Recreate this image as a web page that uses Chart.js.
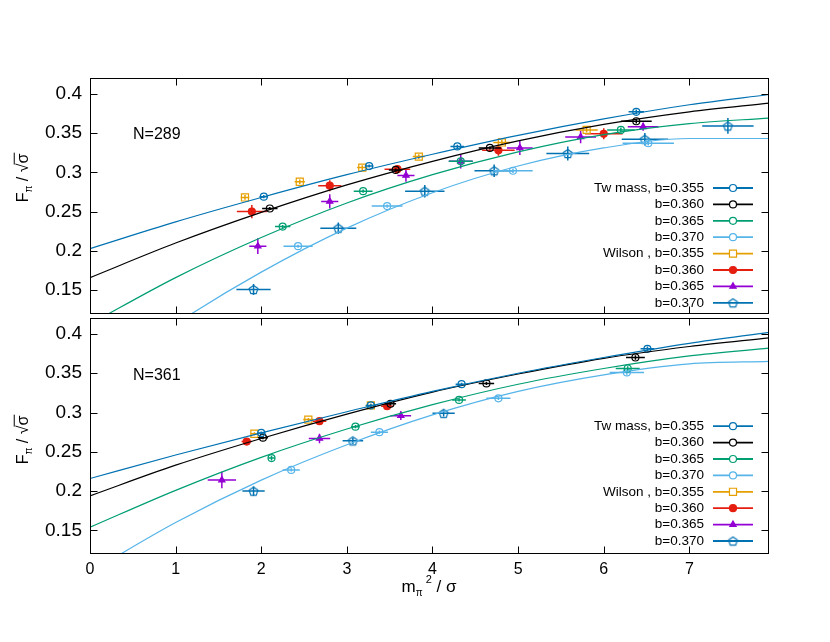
<!DOCTYPE html>
<html>
<head>
<meta charset="utf-8">
<script src="https://cdn.jsdelivr.net/npm/chart.js@4.4.0/dist/chart.umd.min.js"></script>
<style>
  html, body { margin: 0; padding: 0; background: #fff; }
  #wrap { position: relative; width: 830px; height: 642px; }
  #top { position: absolute; left: 0; top: 0; }
  #bot { position: absolute; left: 0; top: 311px; }
</style>
</head>
<body>
<div id="wrap">
  <canvas id="top" width="830" height="321"></canvas>
  <canvas id="bot" width="830" height="331"></canvas>
</div>
<script>
const SERIES = ["Tw mass, b=0.355", "b=0.360", "b=0.365", "b=0.370",
                "Wilson , b=0.355", "b=0.360", "b=0.365", "b=0.370"];
const COLORS = ["#0072b2", "#000000", "#009e73", "#56b4e9",
                "#e69f00", "#e51e10", "#9400d3", "#0072b2"];
const X_TICKS = [0, 1, 2, 3, 4, 5, 6, 7];
const Y_TICKS = [0.15, 0.2, 0.25, 0.3, 0.35, 0.4];
const CURVE_X = [0, 1, 2, 3, 4, 5, 6, 7, 7.93];

// N=289, points as [x, y, dx, dy]
const tw355_289 = [[2.03, 0.269, 0.05, 0.002], [3.26, 0.308, 0.05, 0.002], [4.29, 0.333, 0.08, 0.002], [6.38, 0.377, 0.09, 0.003]];
const tw360_289 = [[2.10, 0.254, 0.09, 0.002], [3.57, 0.303, 0.08, 0.002], [4.67, 0.331, 0.13, 0.002], [6.38, 0.365, 0.18, 0.003]];
const tw365_289 = [[2.25, 0.231, 0.09, 0.002], [3.19, 0.276, 0.11, 0.002], [4.33, 0.314, 0.14, 0.003], [6.20, 0.354, 0.16, 0.003]];
const tw370_289 = [[2.43, 0.206, 0.17, 0.002], [3.47, 0.257, 0.18, 0.002], [4.94, 0.302, 0.23, 0.003], [6.52, 0.337, 0.30, 0.003]];
const wi355_289 = [[1.81, 0.268, 0.05, 0.003], [2.45, 0.288, 0.06, 0.003], [3.18, 0.306, 0.06, 0.003], [3.84, 0.320, 0.07, 0.003], [4.81, 0.338, 0.10, 0.003], [5.80, 0.354, 0.13, 0.003]];
const wi360_289 = [[1.89, 0.250, 0.175, 0.0085], [2.80, 0.283, 0.135, 0.007], [3.59, 0.304, 0.15, 0.005], [4.77, 0.328, 0.19, 0.007], [6.00, 0.349, 0.22, 0.007]];
const wi365_289 = [[1.96, 0.206, 0.10, 0.010], [2.80, 0.263, 0.10, 0.009], [3.69, 0.296, 0.10, 0.008], [4.33, 0.314, 0.14, 0.009], [5.02, 0.331, 0.15, 0.009], [5.73, 0.345, 0.18, 0.008], [6.46, 0.358, 0.18, 0.005]];
const wi370_289 = [[1.91, 0.151, 0.20, 0.007], [2.90, 0.229, 0.21, 0.007], [3.91, 0.276, 0.23, 0.008], [4.72, 0.302, 0.23, 0.008], [5.58, 0.324, 0.25, 0.009], [6.48, 0.342, 0.27, 0.008], [7.45, 0.359, 0.30, 0.010]];
// fit curves, y at CURVE_X
const c355_289 = [0.203, 0.237, 0.268, 0.297, 0.323, 0.347, 0.368, 0.386, 0.399];
const c360_289 = [0.166, 0.210, 0.249, 0.284, 0.314, 0.340, 0.361, 0.377, 0.388];
const c365_289 = [0.107, 0.166, 0.217, 0.261, 0.297, 0.326, 0.348, 0.362, 0.369];
const c370_289 = [0.030, 0.107, 0.173, 0.229, 0.274, 0.308, 0.331, 0.343, 0.343];

// N=361
const tw355_361 = [[2.00, 0.274, 0.05, 0.002], [3.28, 0.309, 0.06, 0.002], [4.34, 0.336, 0.07, 0.002], [6.51, 0.381, 0.08, 0.003]];
const tw360_361 = [[2.02, 0.268, 0.06, 0.002], [3.51, 0.311, 0.065, 0.002], [4.63, 0.337, 0.09, 0.002], [6.37, 0.370, 0.11, 0.003]];
const tw365_361 = [[2.12, 0.242, 0.04, 0.003], [3.10, 0.282, 0.05, 0.002], [4.31, 0.316, 0.08, 0.002], [6.28, 0.356, 0.14, 0.003]];
const tw370_361 = [[2.35, 0.227, 0.10, 0.002], [3.38, 0.275, 0.10, 0.002], [4.77, 0.318, 0.14, 0.002], [6.27, 0.351, 0.20, 0.003]];
const wi355_361 = [[1.92, 0.273, 0.045, 0.002], [2.55, 0.291, 0.06, 0.002], [3.28, 0.309, 0.06, 0.002]];
const wi360_361 = [[1.83, 0.263, 0.06, 0.003], [2.68, 0.289, 0.08, 0.003], [3.47, 0.308, 0.07, 0.004]];
const wi365_361 = [[1.54, 0.214, 0.165, 0.0105], [2.68, 0.267, 0.125, 0.006], [3.63, 0.296, 0.12, 0.0055]];
const wi370_361 = [[1.91, 0.200, 0.13, 0.006], [3.07, 0.264, 0.12, 0.004], [4.13, 0.299, 0.13, 0.004]];
const c355_361 = [0.216, 0.246, 0.274, 0.301, 0.327, 0.350, 0.370, 0.388, 0.402];
const c360_361 = [0.194, 0.233, 0.267, 0.298, 0.326, 0.349, 0.369, 0.384, 0.395];
const c365_361 = [0.154, 0.201, 0.243, 0.279, 0.310, 0.336, 0.356, 0.372, 0.382];
const c370_361 = [0.097, 0.160, 0.214, 0.259, 0.297, 0.327, 0.348, 0.362, 0.365];

const FONT = '"Liberation Sans", Arial, sans-serif';

function pentagon(color) {
  const c = document.createElement("canvas");
  c.width = 13; c.height = 13;
  const g = c.getContext("2d");
  g.strokeStyle = color; g.lineWidth = 1.2;
  g.beginPath();
  for (let k = 0; k < 5; k++) {
    const a = -Math.PI / 2 + k * 2 * Math.PI / 5;
    const px = 6.5 + 4.6 * Math.cos(a), py = 7 + 4.6 * Math.sin(a);
    k ? g.lineTo(px, py) : g.moveTo(px, py);
  }
  g.closePath(); g.stroke();
  return c;
}

const POINT_STYLES = ["circle", "circle", "circle", "circle", "rect", "circle", "triangle", pentagon(COLORS[7])];
const FILLED = [false, false, false, false, false, true, true, false];
const RADII = [3.5, 3.5, 3.5, 3.5, 5, 3.5, 3.6, 6];

// runs: [text, size, dy, overline]
function drawRuns(ctx, runs, x, y) {
  let w = 0;
  const widths = runs.map(r => {
    ctx.font = r[1] + "px " + FONT;
    const m = ctx.measureText(r[0]).width;
    w += m;
    return m;
  });
  let cx = x - w / 2;
  runs.forEach((r, i) => {
    ctx.font = r[1] + "px " + FONT;
    ctx.fillText(r[0], cx, y + r[2]);
    if (r[3]) {
      ctx.beginPath();
      ctx.moveTo(cx - 1, y - r[1] * 0.86);
      ctx.lineTo(cx + widths[i] + 1, y - r[1] * 0.86);
      ctx.stroke();
    }
    cx += widths[i];
  });
}

const decor = {
  id: "decor",
  afterDatasetDraw(chart, args) {
    const ds = chart.data.datasets[args.index];
    if (!ds.errs) return;
    const { ctx, chartArea: a, scales: { x, y } } = chart;
    ctx.save();
    ctx.beginPath();
    ctx.rect(a.left, a.top, a.right - a.left, a.bottom - a.top);
    ctx.clip();
    ctx.strokeStyle = ds.borderColor;
    ctx.lineWidth = 1.5;
    ds.data.forEach((p, i) => {
      const [dx, dy] = ds.errs[i];
      ctx.beginPath();
      ctx.moveTo(x.getPixelForValue(p.x - dx), y.getPixelForValue(p.y));
      ctx.lineTo(x.getPixelForValue(p.x + dx), y.getPixelForValue(p.y));
      ctx.moveTo(x.getPixelForValue(p.x), y.getPixelForValue(p.y - dy));
      ctx.lineTo(x.getPixelForValue(p.x), y.getPixelForValue(p.y + dy));
      ctx.stroke();
    });
    ctx.restore();
  },
  afterDraw(chart, args, opts) {
    const { ctx, chartArea: a, scales: { x, y } } = chart;
    ctx.save();
    ctx.strokeStyle = "#000";
    ctx.lineWidth = 1;
    const L = Math.round(a.left) + 0.5, R = Math.round(a.right) - 0.5;
    const T = Math.round(a.top) + 0.5, B = Math.round(a.bottom) - 0.5;
    ctx.strokeRect(L, T, R - L, B - T);
    ctx.beginPath();
    X_TICKS.forEach(t => {
      const px = Math.round(x.getPixelForValue(t)) + 0.5;
      ctx.moveTo(px, B); ctx.lineTo(px, B - 7);
      ctx.moveTo(px, T); ctx.lineTo(px, T + 7);
    });
    Y_TICKS.forEach(t => {
      const py = Math.round(y.getPixelForValue(t)) + 0.5;
      ctx.moveTo(L, py); ctx.lineTo(L + 7, py);
      ctx.moveTo(R, py); ctx.lineTo(R - 7, py);
    });
    ctx.stroke();

    // panel label
    ctx.fillStyle = "#000";
    ctx.font = "16px " + FONT;
    ctx.textBaseline = "middle";
    ctx.textAlign = "left";
    ctx.fillText(opts.label, a.left + 43, a.top + 57);

    // legend
    ctx.font = "13.5px " + FONT;
    ctx.textAlign = "right";
    chart.data.datasets.filter(d => d.legend).forEach((d, i) => {
      const ly = a.top + opts.legendTop + i * 16.4;
      ctx.fillStyle = "#000";
      ctx.fillText(d.legend, a.right - 65, ly);
      ctx.strokeStyle = d.borderColor;
      ctx.lineWidth = 1.8;
      ctx.beginPath();
      ctx.moveTo(a.right - 56, ly); ctx.lineTo(a.right - 16, ly);
      ctx.stroke();
      ctx.fillStyle = d.filled ? d.borderColor : "#fff";
      ctx.lineWidth = 1.2;
      Chart.helpers.drawPoint(ctx, { pointStyle: d.pointStyle, radius: d.pointRadius, rotation: 0, borderWidth: 1.2 }, a.right - 36, ly);
    });

    // axis titles
    ctx.fillStyle = "#000";
    ctx.strokeStyle = "#000";
    ctx.lineWidth = 1;
    ctx.textAlign = "left";
    ctx.textBaseline = "alphabetic";
    ctx.save();
    ctx.translate(28, opts.titleY);
    ctx.rotate(-Math.PI / 2);
    drawRuns(ctx, [["F", 16, 0], ["\u03c0", 10, 4], [" / ", 16, 0], ["\u221a", 16, 0], ["\u03c3", 16, 0, true]], 0, 0);
    ctx.restore();
    if (opts.xTitleY) {
      drawRuns(ctx, [["m", 17, 0], ["\u03c0", 10, 4], [" 2", 11, -9], [" / \u03c3", 17, 0]], 429, opts.xTitleY);
    }
    ctx.restore();
  }
};

const noPad = (s) => { s.paddingTop = 0; s.paddingBottom = 0; s.paddingLeft = 0; s.paddingRight = 0; };

function makePanel(id, points, curves, opts) {
  const datasets = [];
  curves.forEach((ys, i) => {
    datasets.push({
      data: CURVE_X.map((x, j) => ({ x, y: ys[j] })),
      showLine: true,
      borderColor: COLORS[i],
      borderWidth: 1.2,
      pointRadius: 0,
      cubicInterpolationMode: "monotone",
      fill: false,
    });
  });
  points.forEach((pts, i) => {
    datasets.push({
      data: pts.map(p => ({ x: p[0], y: p[1] })),
      errs: pts.map(p => [p[2], p[3]]),
      legend: SERIES[i],
      filled: FILLED[i],
      showLine: false,
      borderColor: COLORS[i],
      backgroundColor: FILLED[i] ? COLORS[i] : "rgba(0,0,0,0)",
      pointStyle: POINT_STYLES[i],
      pointRadius: RADII[i],
      pointBorderWidth: 1.2,
    });
  });
  return new Chart(document.getElementById(id), {
    type: "scatter",
    data: { datasets },
    options: {
      responsive: false,
      animation: false,
      layout: { padding: { top: opts.padTop, right: 61, bottom: 0, left: 0 } },
      plugins: {
        legend: { display: false },
        tooltip: { enabled: false },
        decor: opts,
      },
      scales: {
        x: {
          type: "linear",
          min: 0,
          max: 7.93,
          grid: { display: false, drawTicks: false },
          border: { display: false },
          ticks: {
            display: opts.showX,
            padding: 6,
            color: "#000",
            font: { family: FONT, size: 16 },
            maxRotation: 0,
            autoSkip: false,
          },
          afterBuildTicks: (s) => { s.ticks = X_TICKS.map(v => ({ value: v })); },
          afterFit: (s) => { s.height = opts.xHeight; noPad(s); },
        },
        y: {
          min: 0.12,
          max: 0.42,
          grid: { display: false, drawTicks: false },
          border: { display: false },
          ticks: {
            padding: 8,
            color: "#000",
            font: { family: FONT, size: 19 },
            autoSkip: false,
            callback: (v) => String(+v.toFixed(2)),
          },
          afterBuildTicks: (s) => { s.ticks = Y_TICKS.map(v => ({ value: v })); },
          afterFit: (s) => { s.width = 90; noPad(s); },
        },
      },
    },
    plugins: [decor],
  });
}

makePanel("top",
  [tw355_289, tw360_289, tw365_289, tw370_289, wi355_289, wi360_289, wi365_289, wi370_289],
  [c355_289, c360_289, c365_289, c370_289],
  { label: "N=289", padTop: 78, xHeight: 5, showX: false, legendTop: 110, titleY: 178 });

makePanel("bot",
  [tw355_361, tw360_361, tw365_361, tw370_361, wi355_361, wi360_361, wi365_361, wi370_361],
  [c355_361, c360_361, c365_361, c370_361],
  { label: "N=361", padTop: 5, xHeight: 88, showX: true, legendTop: 108, titleY: 129, xTitleY: 281 });
</script>
</body>
</html>
